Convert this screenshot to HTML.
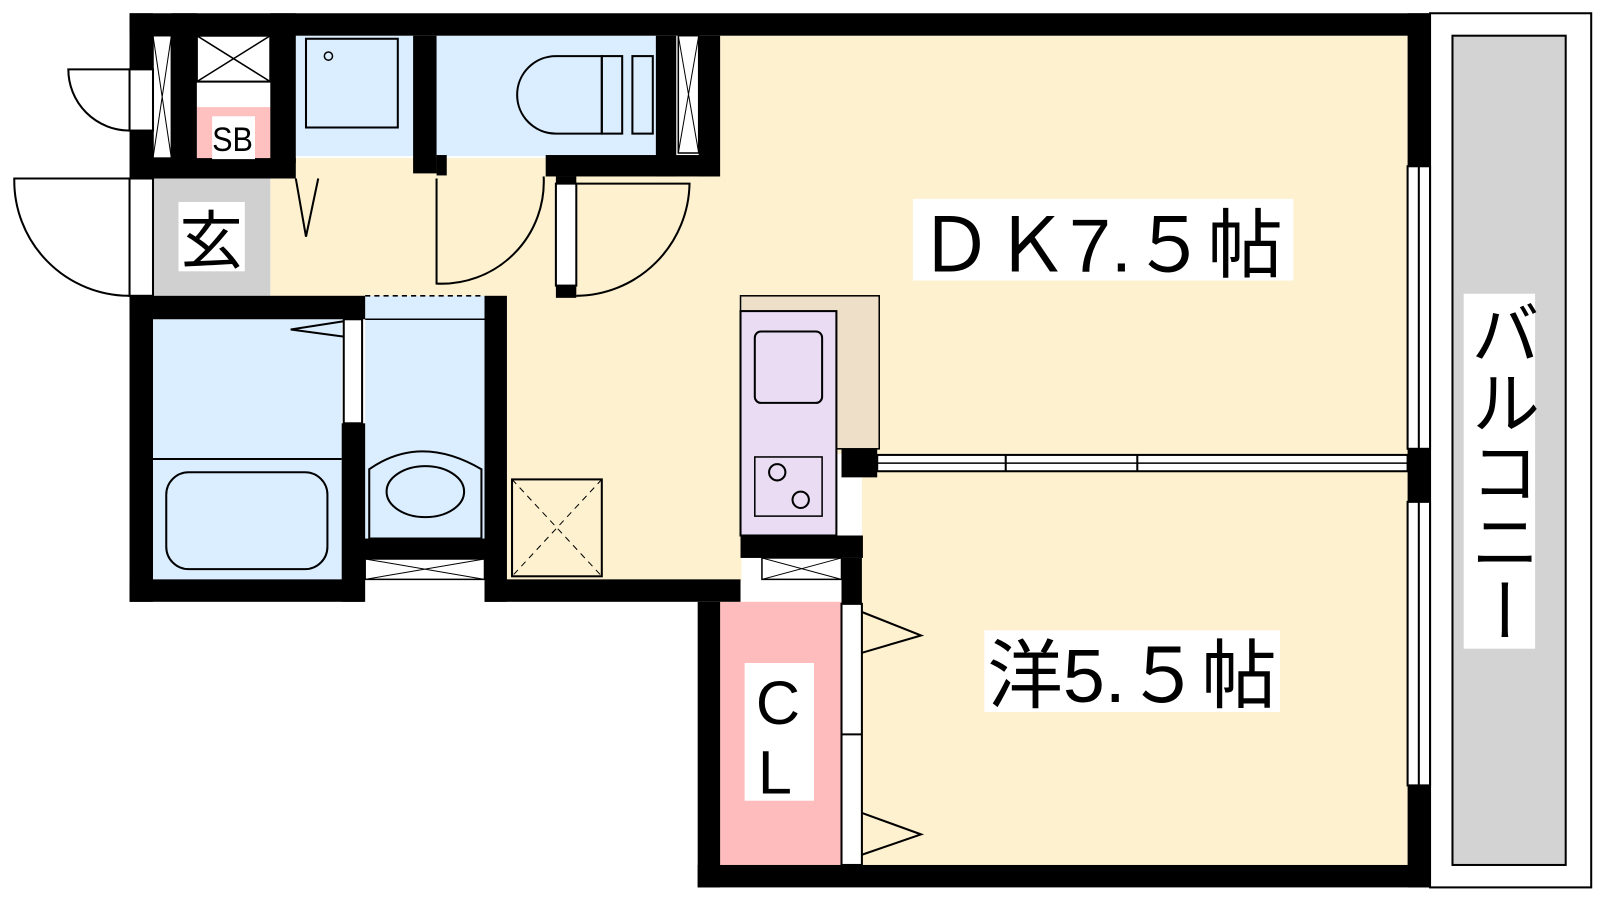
<!DOCTYPE html>
<html><head><meta charset="utf-8"><style>
html,body{margin:0;padding:0;background:#fff;}
svg{display:block}
text{font-family:"Liberation Sans","Noto Sans CJK JP",sans-serif;}
</style></head><body>
<svg width="1600" height="900" viewBox="0 0 1600 900" xmlns="http://www.w3.org/2000/svg">
<rect width="1600" height="900" fill="#fff"/>
<g transform="scale(1.02)">
<!-- balcony -->
<rect x="1402" y="13" width="158" height="857" fill="#fff" stroke="#000" stroke-width="2"/>
<rect x="1424" y="35" width="111" height="813" fill="#d3d3d3" stroke="#000" stroke-width="2"/>
<!-- floors -->
<rect x="706" y="35" width="676" height="410" fill="#fdf1d0"/>
<rect x="497" y="290" width="230" height="280" fill="#fdf1d0"/>
<rect x="265" y="155" width="445" height="136" fill="#fdf1d0"/>
<rect x="845" y="462" width="537" height="388" fill="#fdf1d0"/>
<rect x="150" y="175" width="115" height="115" fill="#d0d0d0"/>
<rect x="193" y="105" width="72" height="55" fill="#ffc0c0"/>
<rect x="193" y="35" width="72" height="45" fill="#fff" stroke="#000" stroke-width="2"/>
<path d="M193 35L265 80M265 35L193 80" stroke="#000" stroke-width="1.5"/>
<rect x="290" y="35" width="115" height="118" fill="#dbeeff"/>
<rect x="300" y="38" width="90" height="87" fill="none" stroke="#000" stroke-width="2"/>
<circle cx="322" cy="55" r="4" fill="none" stroke="#000" stroke-width="1.5"/>
<rect x="428" y="35" width="215" height="118" fill="#dbeeff"/>
<path d="M590 55 H545 a35 35 0 0 0 0 76 H590 Z" fill="none" stroke="#000" stroke-width="2"/>
<rect x="590" y="55" width="20" height="76" fill="none" stroke="#000" stroke-width="2"/>
<rect x="620" y="55" width="20" height="76" fill="none" stroke="#000" stroke-width="2"/>
<rect x="150" y="313" width="185" height="255" fill="#dbeeff"/>
<line x1="150" y1="450" x2="335" y2="450" stroke="#000" stroke-width="2"/>
<rect x="163" y="463" width="158" height="95" rx="22" fill="none" stroke="#000" stroke-width="2"/>
<rect x="358" y="290" width="117" height="238" fill="#dbeeff"/>
<path d="M362 460 q50 -35 110 0 v68 h-110 z" fill="none" stroke="#000" stroke-width="2"/>
<ellipse cx="417" cy="482" rx="38" ry="25" fill="none" stroke="#000" stroke-width="2"/>
<line x1="358" y1="313" x2="475" y2="313" stroke="#000" stroke-width="1.5"/>
<line x1="358" y1="290" x2="475" y2="290" stroke="#000" stroke-width="1.5" stroke-dasharray="5,4"/>
<!-- kitchen -->
<rect x="726" y="290" width="136" height="150" fill="#eedfc8" stroke="#000" stroke-width="1.5"/>
<rect x="726" y="305" width="94" height="220" fill="#eadcf3" stroke="#000" stroke-width="2"/>
<rect x="740" y="325" width="66" height="70" rx="6" fill="none" stroke="#000" stroke-width="2"/>
<rect x="740" y="448" width="66" height="58" fill="none" stroke="#000" stroke-width="1.5"/>
<circle cx="762" cy="463" r="8" fill="none" stroke="#000" stroke-width="2"/>
<circle cx="785" cy="490" r="8" fill="none" stroke="#000" stroke-width="2"/>
<rect x="502" y="470" width="88" height="95" fill="none" stroke="#000" stroke-width="2"/>
<path d="M502 470L590 565M590 470L502 565" stroke="#000" stroke-width="1" stroke-dasharray="6,5"/>
<!-- CL -->
<rect x="706" y="590" width="119" height="258" fill="#ffbcbc"/>
<!-- walls -->
<g fill="#000">
<rect x="127" y="13" width="1275" height="22"/>
<rect x="1380" y="13" width="22" height="150"/>
<rect x="1380" y="440" width="22" height="52"/>
<rect x="1380" y="770" width="22" height="100"/>
<rect x="684" y="848" width="718" height="22"/>
<rect x="684" y="590" width="22" height="280"/>
<rect x="127" y="13" width="23" height="55"/>
<rect x="127" y="128" width="23" height="47"/>
<rect x="127" y="290" width="23" height="300"/>
<rect x="127" y="568" width="230" height="22"/>
<rect x="127" y="290" width="231" height="23"/>
<rect x="475" y="290" width="22" height="300"/>
<rect x="335" y="415" width="23" height="175"/>
<rect x="357" y="528" width="118" height="20"/>
<rect x="475" y="568" width="251" height="22"/>
<rect x="726" y="525" width="120" height="22"/>
<rect x="825" y="440" width="35" height="28"/>
<rect x="825" y="547" width="20" height="45"/>
<rect x="168" y="13" width="25" height="147"/>
<rect x="265" y="13" width="25" height="147"/>
<rect x="150" y="155" width="140" height="20"/>
<rect x="405" y="35" width="23" height="135"/>
<rect x="643" y="35" width="20" height="138"/>
<rect x="685" y="35" width="21" height="138"/>
<rect x="535" y="152" width="170" height="21"/>
<rect x="545" y="173" width="20" height="10"/>
<rect x="545" y="280" width="20" height="12"/>
<rect x="428" y="152" width="10" height="20"/>
</g>
<!-- window hatch boxes -->
<g fill="#fff" stroke="#000" stroke-width="1.5">
<rect x="150" y="35" width="18" height="120"/>
<rect x="665" y="35" width="20" height="115"/>
<rect x="358" y="548" width="117" height="20"/>
<rect x="747" y="547" width="78" height="21"/>
</g>
<path d="M150 35L168 155M168 35L150 155M665 35L685 150M685 35L665 150M358 548L475 568M475 548L358 568M747 547L825 568M825 547L747 568" stroke="#000" stroke-width="1"/>
<!-- doors -->
<g fill="none" stroke="#000" stroke-width="2">
<path d="M127 68 H67 a60 60 0 0 0 60 60"/>
<rect x="127" y="68" width="23" height="60" fill="#fff"/>
<path d="M127 175 H14 a113 113 0 0 0 113 115"/>
<rect x="127" y="175" width="23" height="115" fill="#fff"/>
<path d="M428 175 V278 a100 100 0 0 0 105 -105"/>
<path d="M565 180 H676 a112 112 0 0 1 -111 110"/>
<rect x="545" y="180" width="20" height="100" fill="#fff"/>
<path d="M290 175 L300 232 L312 175"/>
<rect x="337" y="313" width="18" height="102" fill="#fff"/>
<path d="M337 315 L285 323 L337 330"/>
<path d="M845 600 L903 623 L845 640"/>
<path d="M845 797 L903 818 L845 838"/>
<rect x="825" y="592" width="20" height="256" fill="#fff"/>
<line x1="825" y1="720" x2="845" y2="720"/>
<rect x="860" y="446" width="520" height="16" fill="#fff"/>
<line x1="986" y1="446" x2="986" y2="462"/>
<line x1="1115" y1="446" x2="1115" y2="462"/>
<line x1="860" y1="454" x2="1380" y2="454" stroke-width="1.5"/>
<rect x="1380" y="163" width="22" height="277" fill="#fff"/>
<line x1="1391" y1="163" x2="1391" y2="440"/>
<rect x="1380" y="492" width="22" height="278" fill="#fff"/>
<line x1="1391" y1="492" x2="1391" y2="770"/>
</g>
<!-- labels -->
<rect x="895" y="195" width="373" height="80" fill="#fff"/>
<text x="900" y="266" font-size="74">ＤＫ7.５帖</text>
<rect x="965" y="618" width="290" height="80" fill="#fff"/>
<text x="968" y="688" font-size="74">洋5.５帖</text>
<rect x="1435" y="288" width="70" height="348" fill="#fff"/>
<text font-size="68" writing-mode="tb" x="1470" y="292">バルコニー</text>
<rect x="175" y="198" width="65" height="68" fill="#fff"/>
<text x="176" y="258" font-size="62">玄</text>
<rect x="208" y="114" width="42" height="42" fill="#fff"/>
<text x="208" y="148" font-size="34" textLength="40" lengthAdjust="spacingAndGlyphs">SB</text>
<rect x="730" y="650" width="68" height="135" fill="#fff"/>
<text x="741" y="710" font-size="60">C</text>
<text x="743" y="778" font-size="60">L</text>
</g>
</svg>
</body></html>
